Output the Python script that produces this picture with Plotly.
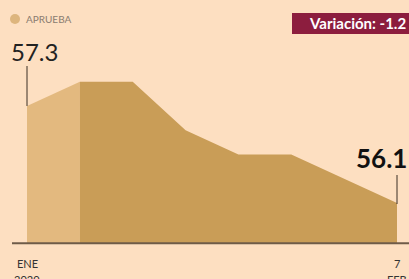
import plotly.graph_objects as go

# Data
x_light = [0, 1]
y_light = [57.3, 57.6]
x_dark = [1, 2, 3, 4, 5, 7]
y_dark = [57.6, 57.6, 57.0, 56.7, 56.7, 56.1]
baseline = 55.6
start_label = "57.3"
end_label = "56.1"
variation_text = "Variación: -1.2"
series_name = "APRUEBA"
tick_start = ["ENE", "2020"]
tick_end = ["7", "FEB"]

W, H = 409, 279
BG = "#FDDFC1"
LIGHT = "#E3B97F"
DARK = "#C99D57"
FONT = "Lato"

def px(x):
    return x / W

def py(y):
    return 1 - y / H

fig = go.Figure()

def area(xs, ys, color):
    fig.add_trace(go.Scatter(
        x=xs + xs[::-1], y=ys + [baseline] * len(xs),
        fill="toself", fillcolor=color, mode="none",
        line=dict(width=0), hoverinfo="skip", showlegend=False))

area(x_light, y_light, LIGHT)
area(x_dark, y_dark, DARK)

xmin, xmax = -0.511, 7.227
ymax = 58.612
ymin = ymax - H / 80.8

fig.update_xaxes(range=[xmin, xmax], visible=False, fixedrange=True)
fig.update_yaxes(range=[ymin, ymax], visible=False, fixedrange=True)

shapes = [
    dict(type="line", xref="paper", yref="y", x0=px(12), x1=1, y0=baseline, y1=baseline,
         line=dict(color="#6E5B48", width=2)),
    dict(type="line", xref="x", yref="paper", x0=x_light[0], x1=x_light[0],
         y0=py(106), y1=py(66), line=dict(color="#3A2E25", width=1)),
    dict(type="line", xref="x", yref="paper", x0=x_dark[-1], x1=x_dark[-1],
         y0=py(204), y1=py(175), line=dict(color="#3A2E25", width=1)),
    dict(type="rect", xref="paper", yref="paper", x0=px(292), x1=px(412), y0=py(34), y1=py(13),
         fillcolor="#8C1D3E", line=dict(width=0)),
    dict(type="circle", xref="paper", yref="paper", x0=px(10), x1=px(20), y0=py(24), y1=py(14),
         fillcolor="#DDB57D", line=dict(width=0)),
]

annotations = [
    dict(x=px(24), y=py(19), xref="paper", yref="paper", text=series_name, showarrow=False,
         xanchor="left", yanchor="middle", font=dict(family=FONT, size=10, color="#8A7C70")),
    dict(x=px(34), y=py(51), xref="paper", yref="paper", text=start_label, showarrow=False,
         xanchor="center", yanchor="middle", font=dict(family=FONT, size=24, color="#222222")),
    dict(x=px(409), y=py(158), xref="paper", yref="paper", text="<b>" + end_label + "</b>", showarrow=False,
         xanchor="right", yanchor="middle", font=dict(family=FONT, size=26, color="#111111")),
    dict(x=px(408), y=py(23), xref="paper", yref="paper", text="<b>" + variation_text + "</b>", showarrow=False,
         xanchor="right", yanchor="middle", font=dict(family=FONT, size=15, color="#FFFFFF")),
    dict(x=x_light[0], y=py(263), xref="x", yref="paper", text=tick_start[0], showarrow=False,
         xanchor="center", yanchor="middle", font=dict(family=FONT, size=11, color="#333333")),
    dict(x=x_light[0], y=py(279), xref="x", yref="paper", text=tick_start[1], showarrow=False,
         xanchor="center", yanchor="middle", font=dict(family=FONT, size=11, color="#333333")),
    dict(x=x_dark[-1], y=py(263), xref="x", yref="paper", text=tick_end[0], showarrow=False,
         xanchor="center", yanchor="middle", font=dict(family=FONT, size=11, color="#333333")),
    dict(x=x_dark[-1], y=py(279), xref="x", yref="paper", text=tick_end[1], showarrow=False,
         xanchor="center", yanchor="middle", font=dict(family=FONT, size=11, color="#333333")),
]

fig.update_layout(
    width=W, height=H,
    margin=dict(l=0, r=0, t=0, b=0),
    paper_bgcolor=BG, plot_bgcolor=BG,
    showlegend=False,
    shapes=shapes, annotations=annotations,
)

fig.write_html("out.html", config={"displayModeBar": False},
               post_script="document.body.style.margin='0';document.body.style.overflow='hidden';")
